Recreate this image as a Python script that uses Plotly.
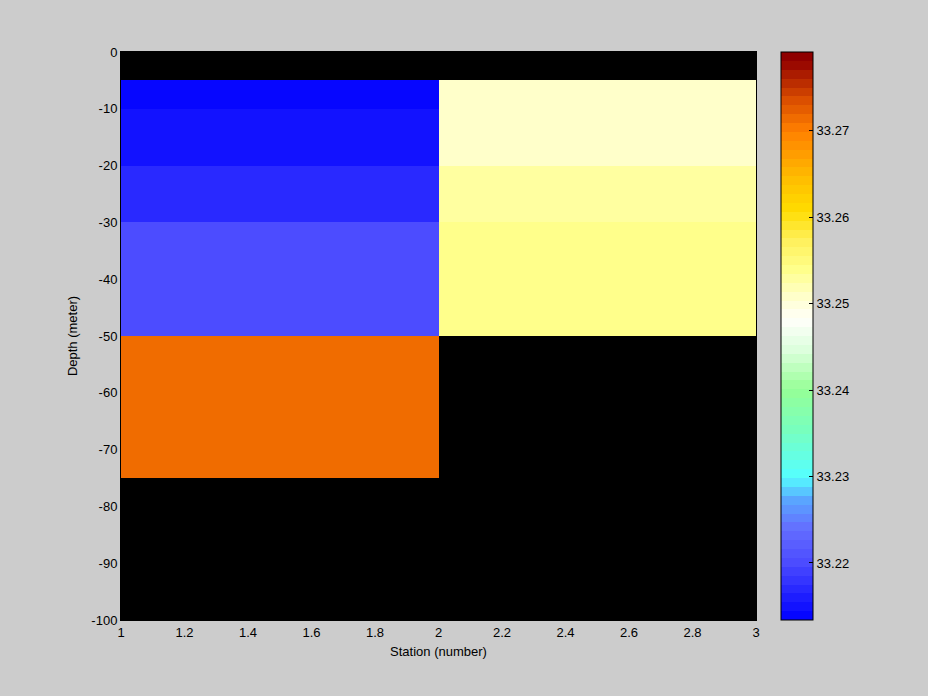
import numpy as np
import plotly.graph_objects as go

# ---- data ----
station_edges = [1, 2, 3]
depth_edges = [0, -5, -10, -20, -30, -50, -75, -100]
# salinity per cell (rows follow depth_edges top->bottom, cols follow stations)
salinity_station1 = [None, 33.2135, 33.2146, 33.2166, 33.2196, 33.2712, None]
salinity_station2 = [None, 33.2509, 33.2511, 33.2531, 33.2537, None, None]

x_tick_vals = [1, 1.2, 1.4, 1.6, 1.8, 2, 2.2, 2.4, 2.6, 2.8, 3]
x_tick_text = ["1", "1.2", "1.4", "1.6", "1.8", "2", "2.2", "2.4", "2.6", "2.8", "3"]
y_tick_vals = [0, -10, -20, -30, -40, -50, -60, -70, -80, -90, -100]
y_tick_text = ["0", "-10", "-20", "-30", "-40", "-50", "-60", "-70", "-80", "-90", "-100"]
cb_tick_vals = [33.22, 33.23, 33.24, 33.25, 33.26, 33.27]
cb_tick_text = ["33.22", "33.23", "33.24", "33.25", "33.26", "33.27"]
zmin, zmax = 33.2134, 33.2791

# ---- colormap (64 discrete levels) ----
anchors = [
    (0.000, (0, 0, 255)),
    (0.100, (75, 75, 255)),
    (0.160, (100, 110, 255)),
    (0.211, (90, 165, 255)),
    (0.252, (85, 255, 255)),
    (0.335, (120, 255, 190)),
    (0.405, (150, 255, 150)),
    (0.475, (220, 255, 220)),
    (0.528, (255, 255, 250)),
    (0.563, (255, 255, 212)),
    (0.616, (255, 255, 140)),
    (0.669, (255, 240, 90)),
    (0.722, (255, 220, 0)),
    (0.775, (255, 190, 0)),
    (0.861, (255, 128, 0)),
    (0.915, (218, 78, 0)),
    (0.986, (145, 0, 0)),
    (1.000, (140, 0, 0)),
]
at = np.array([a[0] for a in anchors])
ac = np.array([a[1] for a in anchors], dtype=float)
N = 64
colorscale = []
for k in range(N):
    t = (k + 0.5) / N
    c = [int(round(np.interp(t, at, ac[:, i]))) for i in range(3)]
    col = f"rgb({c[0]},{c[1]},{c[2]})"
    colorscale.append([k / N, col])
    colorscale.append([(k + 1) / N, col])

z = [[a if a is not None else np.nan, b if b is not None else np.nan]
     for a, b in zip(salinity_station1, salinity_station2)]

# ascending order for edges
y_edges_asc = depth_edges[::-1]
z_asc = z[::-1]

font = "Liberation Sans, Arial, sans-serif"

fig = go.Figure(go.Heatmap(
    x=station_edges,
    y=y_edges_asc,
    z=z_asc,
    zmin=zmin, zmax=zmax,
    colorscale=colorscale,
    hoverongaps=False,
    colorbar=dict(
        x=(781 - 121) / 635, xanchor="left", xpad=0,
        y=0.5, yanchor="middle", ypad=0,
        len=1, lenmode="fraction",
        thickness=32, thicknessmode="pixels",
        outlinecolor="black", outlinewidth=1,
        tickvals=cb_tick_vals, ticktext=cb_tick_text,
        ticks="inside", ticklen=4, tickcolor="black",
        tickfont=dict(family=font, size=13, color="black"),
    ),
))

fig.update_layout(
    width=928, height=696,
    margin=dict(l=121, r=172, t=52, b=76),
    paper_bgcolor="#cccccc",
    plot_bgcolor="black",
    font=dict(family=font, size=13, color="black"),
    xaxis=dict(
        range=[1, 3], tickvals=x_tick_vals, ticktext=x_tick_text,
        showgrid=False, zeroline=False, showline=True, linecolor="black",
        mirror=True, ticks="", tickfont=dict(size=13),
        title=dict(text="Station (number)", font=dict(size=13), standoff=8),
    ),
    yaxis=dict(
        range=[-100, 0], tickvals=y_tick_vals, ticktext=y_tick_text,
        showgrid=False, zeroline=False, showline=True, linecolor="black",
        mirror=True, ticks="", tickfont=dict(size=13),
        title=dict(text="Depth (meter)", font=dict(size=13), standoff=10),
    ),
)

fig.write_html(
    "out.html",
    config={"displayModeBar": False},
    post_script="document.body.style.margin='0';document.body.style.background='#cccccc';",
)
